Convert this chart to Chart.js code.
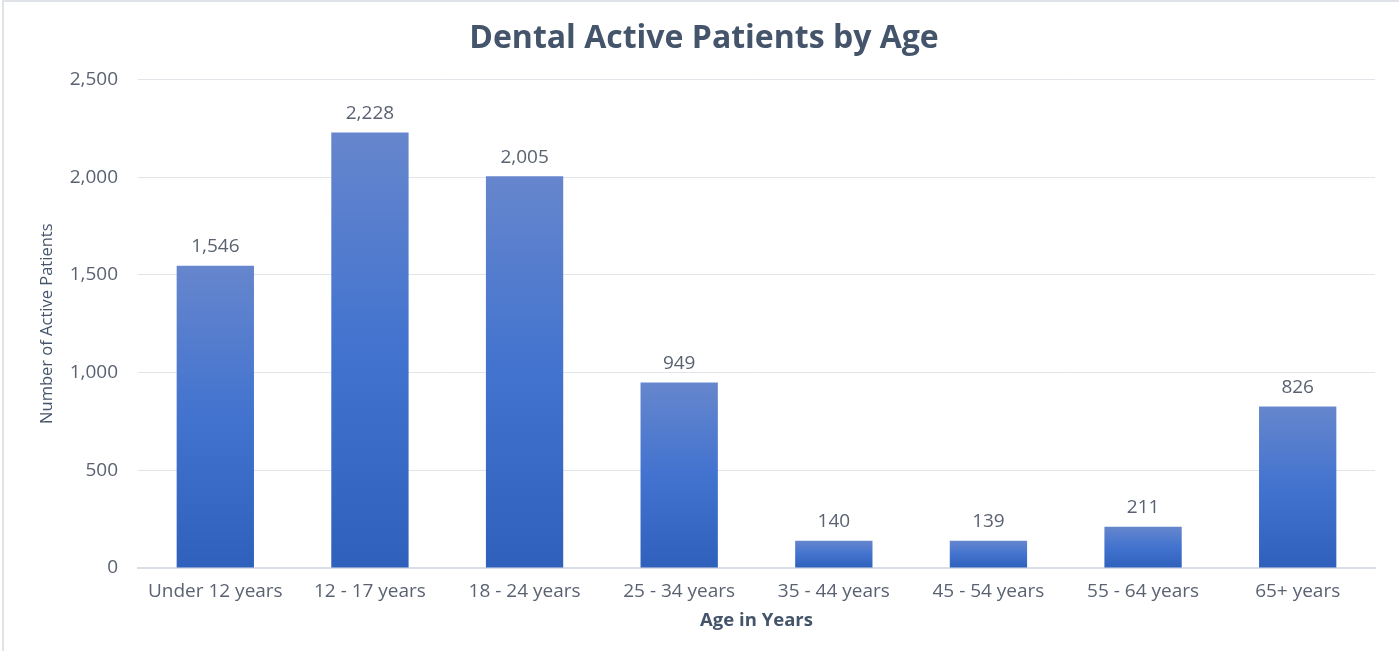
<!DOCTYPE html>
<html lang="en">
<head>
    <meta charset="UTF-8">
    <title>Dental Active Patients by Age</title>
    <script src="https://cdn.jsdelivr.net/npm/chart.js"></script>
    <style>
        html, body { margin: 0; padding: 0; background: #fff; }
        #wrap {
            position: absolute; left: 2px; top: 0;
            width: 1397px; height: 651px;
            border-left: 2px solid #dfe3e8; border-top: 2px solid #dfe3e8;
            box-sizing: border-box;
        }
    </style>
</head>
<body>
    <div id="wrap"><canvas id="ageChart"></canvas></div>

    <script>
        const ageGroups = ['Under 12 years', '12 - 17 years', '18 - 24 years', '25 - 34 years',
                           '35 - 44 years', '45 - 54 years', '55 - 64 years', '65+ years'];
        const activePatients = [1546, 2228, 2005, 949, 140, 139, 211, 826];
        const yTicks = [0, 500, 1000, 1500, 2000, 2500];

        const textColor = '#5a6272';
        const titleColor = '#44546a';

        function barGradient(context) {
            const chart = context.chart;
            if (!chart.chartArea || context.raw === undefined) return '#4472c4';
            const y = chart.scales.y;
            const top = y.getPixelForValue(context.raw);
            const bottom = y.getPixelForValue(0);
            const g = chart.ctx.createLinearGradient(0, top, 0, bottom);
            g.addColorStop(0, '#6686cd');
            g.addColorStop(0.5, '#4273cf');
            g.addColorStop(1, '#2f60bb');
            return g;
        }

        // value labels above each bar
        const valueLabels = {
            id: 'valueLabels',
            afterDatasetsDraw(chart) {
                const ctx = chart.ctx;
                const meta = chart.getDatasetMeta(0);
                ctx.save();
                ctx.font = '19px "Open Sans"';
                ctx.fillStyle = textColor;
                ctx.textAlign = 'center';
                ctx.textBaseline = 'middle';
                meta.data.forEach((bar, i) => {
                    ctx.fillText(activePatients[i].toLocaleString('en-US'), bar.x, bar.y - 19);
                });
                ctx.restore();
            }
        };

        new Chart(document.getElementById('ageChart'), {
            type: 'bar',
            data: {
                labels: ageGroups,
                datasets: [{
                    label: 'Active Patients',
                    data: activePatients,
                    backgroundColor: barGradient,
                    borderWidth: 0,
                    categoryPercentage: 1.0,
                    barPercentage: 0.5
                }]
            },
            options: {
                responsive: true,
                maintainAspectRatio: false,
                animation: false,
                layout: { padding: { left: 29, right: 24, top: 8, bottom: 15 } },
                plugins: {
                    legend: { display: false },
                    tooltip: { enabled: false },
                    title: {
                        display: true,
                        text: 'Dental Active Patients by Age',
                        color: titleColor,
                        font: { family: '"Open Sans"', size: 32, weight: 'bold' },
                        padding: { top: 10, bottom: 21 }
                    }
                },
                scales: {
                    x: {
                        grid: { display: false },
                        border: { color: '#d9dee6', width: 2 },
                        ticks: {
                            color: textColor,
                            font: { family: '"Open Sans"', size: 19 },
                            padding: 4
                        },
                        title: {
                            display: true,
                            text: 'Age in Years',
                            color: titleColor,
                            font: { family: '"Open Sans"', size: 18.5, weight: 'bold' },
                            padding: { top: 3 }
                        }
                    },
                    y: {
                        min: 0,
                        max: 2500,
                        afterBuildTicks(axis) {
                            axis.ticks = yTicks.map(v => ({ value: v }));
                        },
                        afterFit(axis) {
                            axis.width = 105;
                        },
                        grid: { color: '#e1e4e9', lineWidth: 1, drawTicks: false },
                        border: { display: false },
                        ticks: {
                            color: textColor,
                            font: { family: '"Open Sans"', size: 19 },
                            padding: 20,
                            callback: v => v.toLocaleString('en-US')
                        },
                        title: {
                            display: true,
                            text: 'Number of Active Patients',
                            color: titleColor,
                            font: { family: '"Liberation Sans Narrow", "Open Sans"', size: 16.5 },
                            padding: { top: 4, bottom: 0 }
                        }
                    }
                }
            },
            plugins: [valueLabels]
        });
    </script>
</body>
</html>
